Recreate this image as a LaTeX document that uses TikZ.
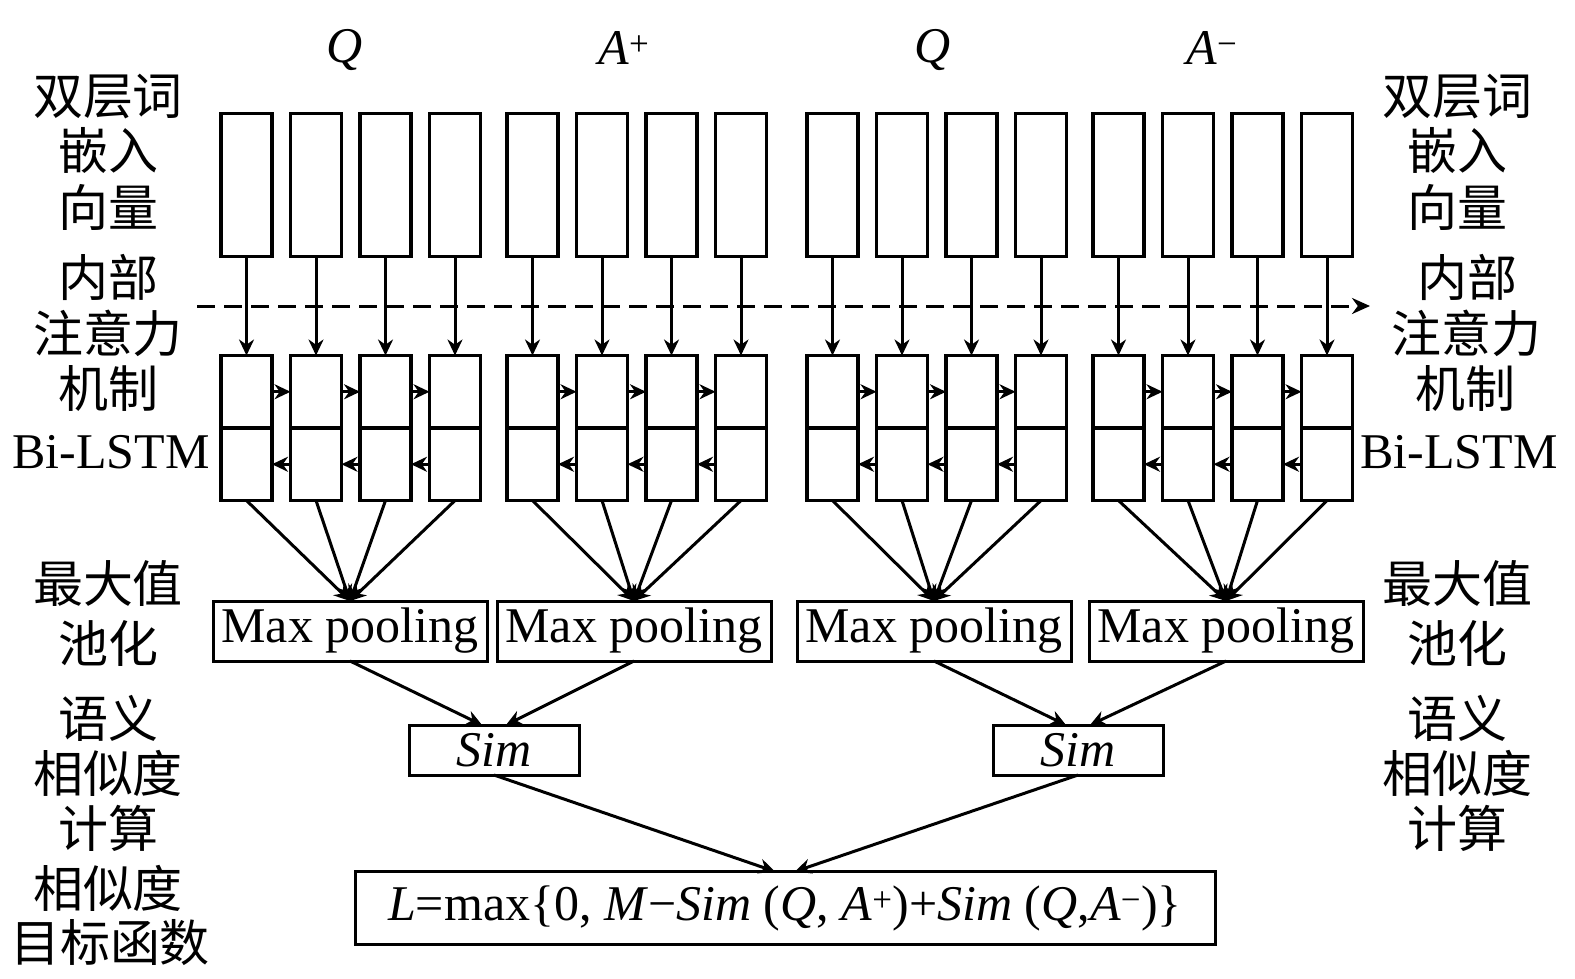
\documentclass[tikz,border=0pt]{standalone}
\usepackage{fontspec}
\setmainfont{Liberation Serif}
\newfontfamily\cjk{Noto Sans CJK SC}
\usetikzlibrary{arrows.meta}
\begin{document}
\begin{tikzpicture}[x=1pt,y=-1pt,
  every node/.style={inner sep=0pt, outer sep=0pt},
  ebox/.style={draw, line width=3.4pt, minimum width=51pt, minimum height=143pt},
  hbox/.style={draw, line width=3.4pt, minimum width=51pt, minimum height=72.5pt},
  mpbox/.style={draw, line width=3pt, minimum width=274pt, minimum height=60pt, font=\fontsize{50}{52}\selectfont},
  simbox/.style={draw, line width=3pt, minimum width=170pt, minimum height=50pt, font=\fontsize{50}{52}\selectfont\itshape},
  lossbox/.style={draw, line width=3pt, minimum width=860pt, minimum height=73pt, font=\fontsize{50}{52}\selectfont},
  lab/.style={font=\fontsize{50}{52}\selectfont\cjk},
  latlab/.style={font=\fontsize{50}{52}\selectfont, anchor=base},
  toplab/.style={font=\fontsize{50}{52}\selectfont\itshape},
  arr/.style={line width=3pt, -{Stealth[length=16pt,width=15pt]}},
  dasharr/.style={line width=3pt, dash pattern=on 18pt off 9pt, -{Stealth[length=18pt,width=16pt]}}
]
\useasboundingbox (0,0) rectangle (1575,978);

% top labels
\node[toplab] (tq1) at (345,50) {Q};
\node[toplab] (ta1) at (624,48) {A\textsuperscript{\upshape +}};
\node[toplab] (tq2) at (933,50) {Q};
\node[toplab] (ta2) at (1212,48) {A\textsuperscript{\upshape −}};

% boxes
\foreach \g/\x in {1/221,2/507,3/807,4/1093}{
  \foreach \i in {1,2,3,4}{
    \pgfmathsetmacro{\cx}{\x+25.5+69.5*(\i-1)}
    \node[ebox] (e\g\i) at (\cx,185) {};
    \node[hbox] (f\g\i) at (\cx,391.75) {};
    \node[hbox] (b\g\i) at (\cx,464.25) {};
    \draw[arr] (e\g\i.south) -- (f\g\i.north);
  }
  \foreach \i/\j in {1/2,2/3,3/4}{
    \draw[arr] (f\g\i.east) -- (f\g\j.west);
    \draw[arr] (b\g\j.west) -- (b\g\i.east);
  }
}

% dashed attention line
\coordinate (ds) at (197,306);
\coordinate (de) at (1370,306);
\draw[dasharr] (ds) -- (de);

% max pooling
\node[mpbox] (mp1) at (350,631) {Max pooling};
\node[mpbox] (mp2) at (634,631) {Max pooling};
\node[mpbox] (mp3) at (934,631) {Max pooling};
\node[mpbox] (mp4) at (1226,631) {Max pooling};
\foreach \g in {1,2,3,4}{
  \foreach \i in {1,2,3,4}{
    \draw[arr] (b\g\i.south) -- (mp\g.north);
  }
}

% sim
\node[simbox] (s1) at (494,750) {Sim};
\node[simbox] (s2) at (1078,750) {Sim};
\draw[arr] (mp1.south) -- ([xshift=-12pt]s1.north);
\draw[arr] (mp2.south) -- ([xshift=12pt]s1.north);
\draw[arr] (mp3.south) -- ([xshift=-12pt]s2.north);
\draw[arr] (mp4.south) -- ([xshift=12pt]s2.north);

% loss
\node[lossbox] (loss) at (785,908) {\textit{L}=max\{0, \textit{M}−\textit{Sim} (\textit{Q}, \textit{A}\textsuperscript{+})+\textit{Sim} (\textit{Q},\textit{A}\textsuperscript{−})\}};
\draw[arr] (s1.south) -- ([xshift=-10pt]loss.north);
\draw[arr] (s2.south) -- ([xshift=10pt]loss.north);

% left labels
\node[lab] (l1) at (108,97) {双层词};
\node[lab] (l2) at (108,150) {嵌入};
\node[lab] (l3) at (108,207) {向量};
\node[lab] (l4) at (108,277) {内部};
\node[lab] (l5) at (108,333) {注意力};
\node[lab] (l6) at (108,388) {机制};
\node[latlab] (l7) at (111,468) {Bi-LSTM};
\node[lab] (l8) at (108,583) {最大值};
\node[lab] (l9) at (108,643) {池化};
\node[lab] (l10) at (108,718) {语义};
\node[lab] (l11) at (108,773) {相似度};
\node[lab] (l12) at (108,828) {计算};
\node[lab] (l13) at (108,888) {相似度};
\node[lab] (l14) at (110,943) {目标函数};

% right labels
\node[lab] (r1) at (1457,97) {双层词};
\node[lab] (r2) at (1457,150) {嵌入};
\node[lab] (r3) at (1457,207) {向量};
\node[lab] (r4) at (1467,277) {内部};
\node[lab] (r5) at (1466,333) {注意力};
\node[lab] (r6) at (1465,388) {机制};
\node[latlab] (r7) at (1459,468) {Bi-LSTM};
\node[lab] (r8) at (1457,583) {最大值};
\node[lab] (r9) at (1457,643) {池化};
\node[lab] (r10) at (1457,718) {语义};
\node[lab] (r11) at (1457,773) {相似度};
\node[lab] (r12) at (1457,828) {计算};
\end{tikzpicture}
\end{document}
